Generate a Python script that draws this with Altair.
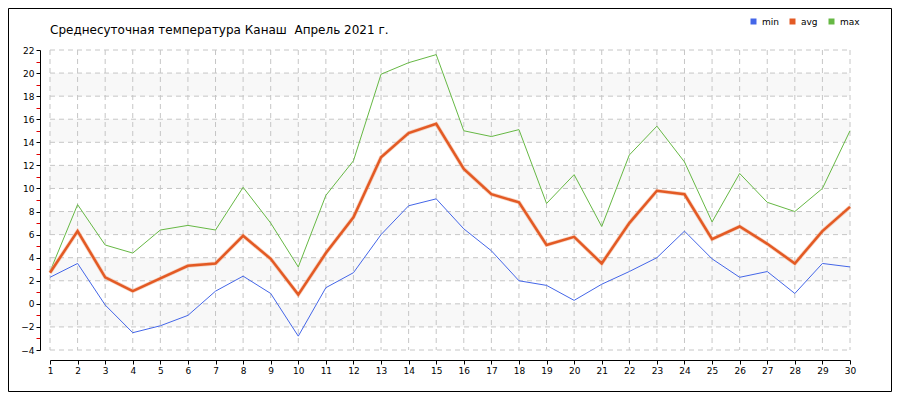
import altair as alt
import pandas as pd

# ---- data ----
days = list(range(1, 31))
t_min = [2.3, 3.5, -0.1, -2.5, -1.9, -1.0, 1.1, 2.4, 0.9, -2.8,
         1.4, 2.7, 6.0, 8.5, 9.1, 6.5, 4.6, 2.0, 1.6, 0.3,
         1.7, 2.8, 4.0, 6.3, 3.9, 2.3, 2.8, 0.9, 3.5, 3.2]
t_avg = [2.7, 6.3, 2.3, 1.1, 2.2, 3.3, 3.5, 5.9, 3.9, 0.8,
         4.4, 7.5, 12.7, 14.8, 15.6, 11.7, 9.5, 8.8, 5.1, 5.8,
         3.5, 7.0, 9.8, 9.5, 5.6, 6.7, 5.2, 3.5, 6.3, 8.4]
t_max = [2.8, 8.6, 5.1, 4.4, 6.4, 6.8, 6.4, 10.1, 7.0, 3.2,
         9.4, 12.4, 19.9, 20.9, 21.6, 15.0, 14.5, 15.1, 8.7, 11.2,
         6.7, 12.9, 15.4, 12.3, 7.1, 11.3, 8.8, 8.0, 10.0, 15.0]
series = ["min", "avg", "max"]
series_colors = ["#4466e8", "#e35a24", "#66b844"]
y_ticks = list(range(-4, 23, 2))
y_all = list(range(-4, 23))
band_lo = [-2, 2, 6, 10, 14, 18]
band_hi = [0, 4, 8, 12, 16, 20]
title_text = "Среднесуточная температура Канаш\u00a0 Апрель 2021 г."

W, H = 800, 300
FONT = "DejaVu Sans"

long = pd.DataFrame({
    "day": days * 3,
    "temp": t_min + t_avg + t_max,
    "series": ["min"] * 30 + ["avg"] * 30 + ["max"] * 30,
})

x_scale = alt.Scale(domain=[1, 30], nice=False, zero=False)
y_scale = alt.Scale(domain=[-4, 22], nice=False, zero=False)

x_axis = alt.Axis(values=days, offset=10, grid=False, domainColor="black",
                  tickColor="black", tickSize=4, labelFontSize=9,
                  labelColor="black", labelFont=FONT, title=None,
                  labelPadding=2, format="d", labelFlush=False,
                  labelOverlap=False)
y_axis = alt.Axis(values=y_all, offset=10, grid=False, domainColor="black",
                  tickColor={"condition": {"test": "datum.value % 2 === 0", "value": "black"}, "value": "#e00000"},
                  tickSize=4, labelFontSize=9, labelColor="black",
                  labelFont=FONT, title=None, labelPadding=2,
                  labelExpr="datum.value % 2 === 0 ? datum.label : ''",
                  labelOverlap=False, labelFlush=False)

X = alt.X("day:Q", scale=x_scale, axis=x_axis)
Y = alt.Y("temp:Q", scale=y_scale, axis=y_axis)

frame = alt.Chart(pd.DataFrame({"k": [0]})).mark_rect(
    filled=False, stroke="black", strokeWidth=1
).encode(x=alt.value(-41.5), x2=alt.value(W + 41.5),
         y=alt.value(-41.5), y2=alt.value(H + 41.5))

bands = alt.Chart(pd.DataFrame({"lo": band_lo, "hi": band_hi})).mark_rect(
    color="#f8f8f8"
).encode(x=alt.value(0), x2=alt.value(W),
         y=alt.Y("lo:Q", scale=y_scale, axis=y_axis), y2="hi:Q")

vgrid = alt.Chart(pd.DataFrame({"day": days})).mark_rule(
    color="#c6c6c6", strokeDash=[5, 4], strokeWidth=1
).encode(x=X, y=alt.value(0), y2=alt.value(H))

hgrid = alt.Chart(pd.DataFrame({"temp": y_ticks})).mark_rule(
    color="#c6c6c6", strokeDash=[5, 4], strokeWidth=1
).encode(y=Y, x=alt.value(0), x2=alt.value(W))

color = alt.Color(
    "series:N",
    scale=alt.Scale(domain=series, range=series_colors),
    legend=alt.Legend(orient="none", legendX=699, legendY=-33,
                      direction="horizontal", title=None,
                      symbolType="square", symbolSize=9,
                      symbolStrokeWidth=3, labelFontSize=9,
                      labelFont=FONT, labelColor="black", labelOffset=4,
                      columnPadding=6, padding=0),
)

base = alt.Chart(long)
thin = base.transform_filter(
    alt.FieldOneOfPredicate(field="series", oneOf=["min", "max"])
).mark_line(strokeWidth=1).encode(x=X, y=Y, color=color)

halo = base.transform_filter(alt.datum.series == "avg").mark_line(
    strokeWidth=4, color="#f3b79a", opacity=0.6
).encode(x=X, y=Y)

avg = base.transform_filter(alt.datum.series == "avg").mark_line(
    strokeWidth=2.5
).encode(x=X, y=Y, color=color)

title = alt.Chart(pd.DataFrame({"t": [title_text]})).mark_text(
    align="left", baseline="alphabetic", fontSize=12, font=FONT, color="black"
).encode(text="t:N", x=alt.value(0), y=alt.value(-16))

chart = alt.layer(frame, bands, vgrid, hgrid, thin, halo, avg, title).properties(
    width=W, height=H,
    padding={"left": 42, "top": 42, "right": 42, "bottom": 42},
    autosize=alt.AutoSizeParams(type="none"),
).configure_view(stroke=None)

chart.save("out.html", embed_options={"renderer": "svg", "actions": False})
